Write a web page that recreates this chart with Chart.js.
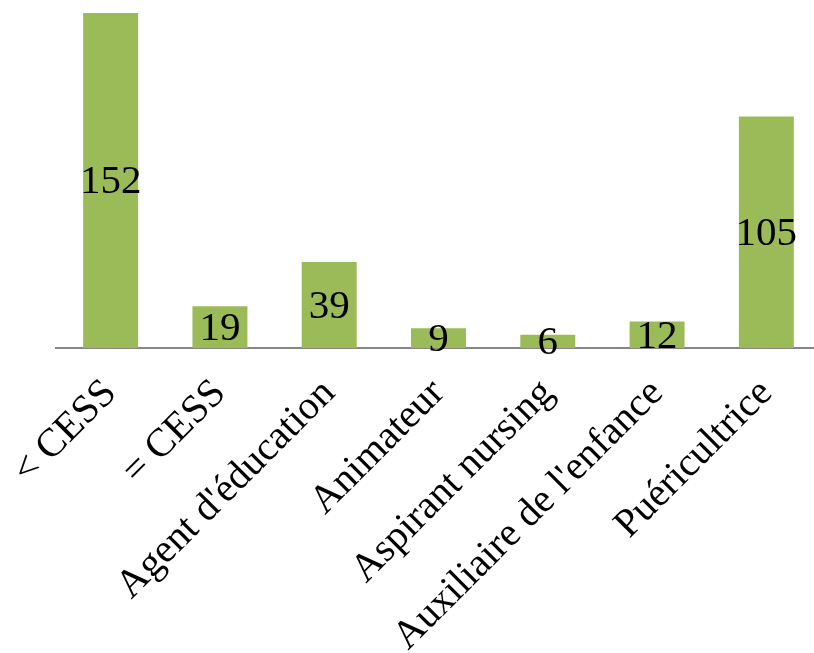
<!DOCTYPE html>
<html>
<head>
<meta charset="utf-8">
<script src="https://cdn.jsdelivr.net/npm/chart.js@4.4.1/dist/chart.umd.min.js"></script>
<style>
  html, body { margin: 0; padding: 0; background: #fff; overflow: hidden; }
  #wrap { width: 822px; height: 653px; position: relative; }
</style>
</head>
<body>
<div id="wrap"><canvas id="myChart"></canvas></div>
<script>
// categories and values
const categories = ['< CESS', '= CESS', "Agent d'éducation", 'Animateur', 'Aspirant nursing', "Auxiliaire de l'enfance", 'Puéricultrice'];
const counts = [152, 19, 39, 9, 6, 12, 105];

const barColor = '#9BBB59';
const serif = "'Liberation Serif', 'DejaVu Serif', serif";

// draw the value in the middle of each bar
const midLabels = {
    id: 'midLabels',
    afterDatasetsDraw(chart) {
        const ctx = chart.ctx;
        const meta = chart.getDatasetMeta(0);
        ctx.save();
        ctx.font = '41px ' + serif;
        ctx.fillStyle = '#000';
        ctx.textAlign = 'center';
        ctx.textBaseline = 'middle';
        meta.data.forEach(function (bar, i) {
            const y = (bar.y + bar.base) / 2;
            ctx.fillText(String(counts[i]), bar.x, y + 2);
        });
        ctx.restore();
    }
};

const data = {
    labels: categories,
    datasets: [{
        data: counts,
        backgroundColor: barColor,
        borderWidth: 0,
        barPercentage: 1,
        categoryPercentage: 0.503
    }]
};

const config = {
    type: 'bar',
    data: data,
    options: {
        responsive: true,
        maintainAspectRatio: false,
        animation: false,
        layout: {
            padding: { top: 13, left: 56, right: 1, bottom: 0 }
        },
        plugins: {
            legend: { display: false },
            tooltip: { enabled: false }
        },
        scales: {
            y: {
                display: false,
                min: 0,
                max: 152
            },
            x: {
                grid: { display: false, drawTicks: false },
                border: { display: true, color: '#868686', width: 2 },
                ticks: {
                    color: '#000',
                    font: { family: serif, size: 40 },
                    minRotation: 45,
                    maxRotation: 45,
                    padding: 22
                },
                afterFit(scale) {
                    scale.height = 305;
                    scale.paddingLeft = 0;
                    scale.paddingRight = 0;
                }
            }
        }
    },
    plugins: [midLabels]
};

new Chart(document.getElementById('myChart'), config);
</script>
</body>
</html>
